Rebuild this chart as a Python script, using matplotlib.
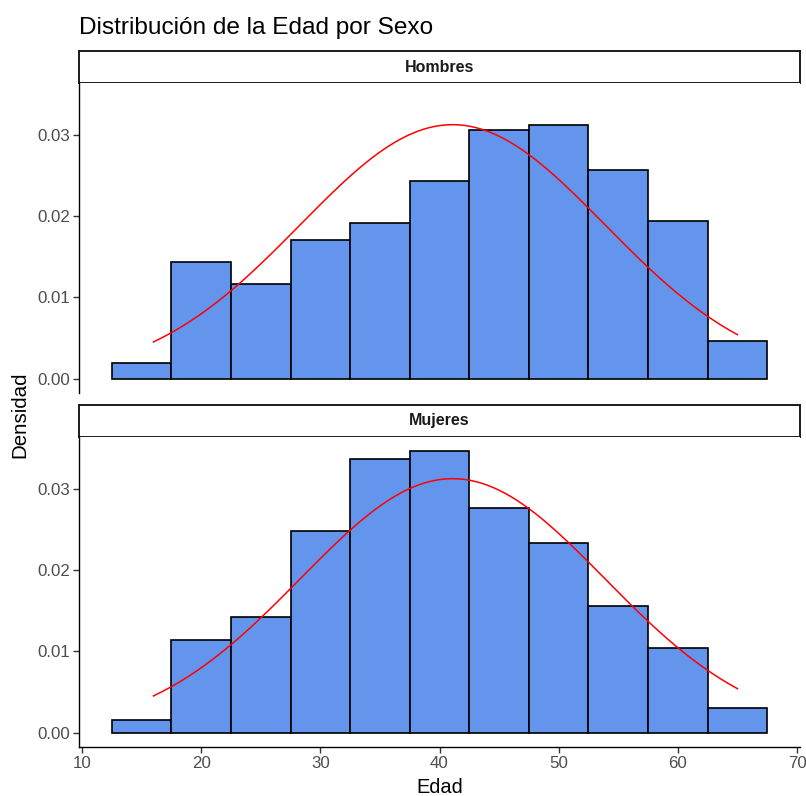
import numpy as np
import matplotlib
matplotlib.use("Agg")
import matplotlib.pyplot as plt

plt.rcParams['font.family'] = ['Liberation Sans', 'DejaVu Sans']

# ---- data ----
bin_centers = [15, 20, 25, 30, 35, 40, 45, 50, 55, 60, 65]
bin_width = 5
dens_hombres = [0.0019, 0.0143, 0.0116, 0.0170, 0.0191, 0.0243, 0.0306, 0.0312, 0.0257, 0.0194, 0.0047]
dens_mujeres = [0.0016, 0.0114, 0.0142, 0.0248, 0.0336, 0.0346, 0.0276, 0.0233, 0.0156, 0.0104, 0.0030]
panels = ["Hombres", "Mujeres"]
edad_media = 41.1
edad_sd = 12.78
edad_min = 16
edad_max = 65
x_ticks = [10, 20, 30, 40, 50, 60, 70]
y_ticks = [0.00, 0.01, 0.02, 0.03]
y_tick_labels = ["0.00", "0.01", "0.02", "0.03"]
title = "Distribución de la Edad por Sexo"
xlabel = "Edad"
ylabel = "Densidad"

W, H = 806, 796
fig = plt.figure(figsize=(W / 100, H / 100), dpi=100)

def px_axes(left, top, right, bottom):
    return fig.add_axes([left / W, 1 - bottom / H, (right - left) / W, (bottom - top) / H])

xs = np.linspace(edad_min, edad_max, 200)
curve = np.exp(-0.5 * ((xs - edad_media) / edad_sd) ** 2) / (edad_sd * np.sqrt(2 * np.pi))

ymax = max(max(dens_hombres), max(dens_mujeres))
ylim = (-0.05 * ymax, 1.05 * ymax)
xr = (bin_centers[0] - bin_width / 2, bin_centers[-1] + bin_width / 2)
span = xr[1] - xr[0]
xlim = (xr[0] - 0.05 * span, xr[1] + 0.05 * span)

layout = [
    (51, 83, 393),   # strip top, panel top, panel bottom
    (405, 437, 747),
]
L, R = 79, 800
lw_axis = 1.0
for i, (name, dens) in enumerate(zip(panels, [dens_hombres, dens_mujeres])):
    st, pt, pb = layout[i]
    # strip
    sax = px_axes(L, st, R, pt)
    sax.set_xticks([]); sax.set_yticks([])
    for sp in sax.spines.values():
        sp.set_linewidth(1.4); sp.set_color('#1A1A1A')
    sax.text(0.5, 0.5, name, ha='center', va='center', fontsize=11.5,
             fontweight='bold', color='#1A1A1A', transform=sax.transAxes)
    # panel
    ax = px_axes(L, pt, R, pb)
    ax.bar(bin_centers, dens, width=bin_width, color='#6495ED', edgecolor='black',
           linewidth=1.2, zorder=2)
    ax.plot(xs, curve, color='red', linewidth=1.1, zorder=3)
    ax.set_xlim(*xlim)
    ax.set_ylim(*ylim)
    ax.set_yticks(y_ticks)
    ax.set_yticklabels(y_tick_labels)
    ax.set_xticks(x_ticks)
    for s in ['top', 'right']:
        ax.spines[s].set_visible(False)
    ax.spines['left'].set_linewidth(lw_axis)
    ax.spines['bottom'].set_linewidth(lw_axis)
    ax.tick_params(axis='both', length=4, width=1.0, color='#333333',
                   labelcolor='#4D4D4D', labelsize=12.2, pad=2.5)
    if i == 0:
        ax.spines['bottom'].set_visible(False)
        ax.tick_params(axis='x', bottom=False, labelbottom=False)
    else:
        ax.set_xlabel(xlabel, fontsize=14.4, color='black', labelpad=5)

fig.text(20 / W, 1 - 415 / H, ylabel, rotation=90, ha='center', va='center',
         fontsize=14.8, color='black')
fig.text(79 / W, 1 - 28 / H, title, ha='left', va='center', fontsize=17.6, color='black')

fig.savefig("out.png", dpi=100)
